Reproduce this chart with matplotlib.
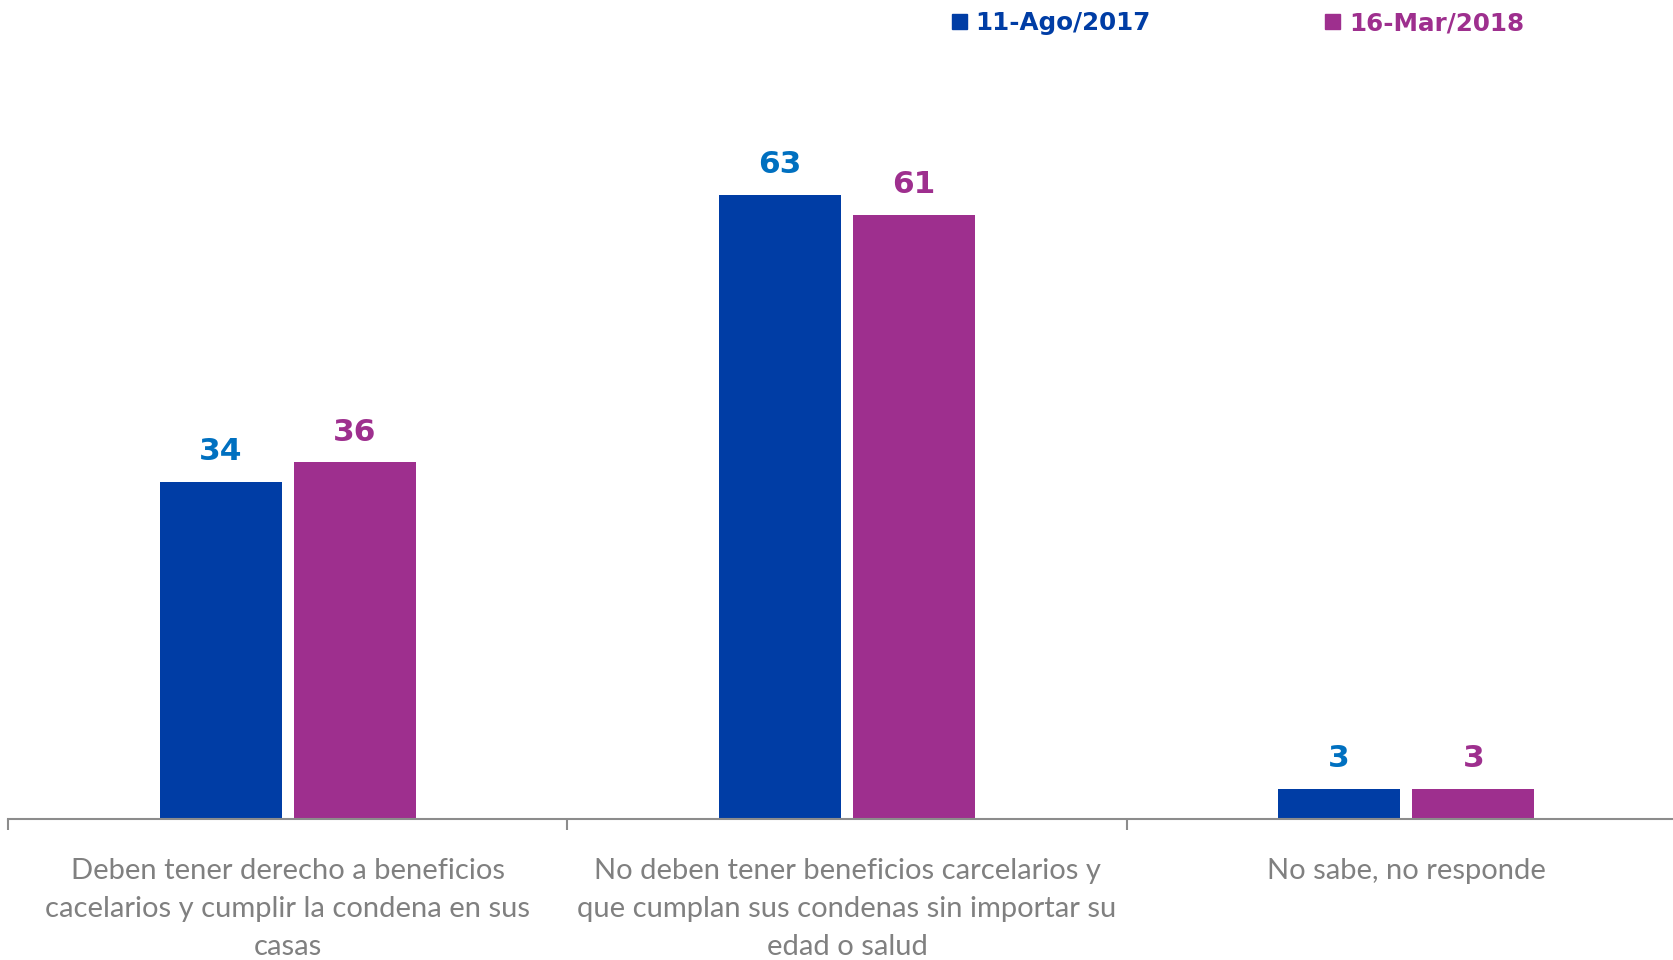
import numpy as np
import matplotlib
import matplotlib.pyplot as plt
from matplotlib.patches import Patch

matplotlib.use('Agg')

categories = ['Deben tener derecho a beneficios\ncacelarios y cumplir la condena en sus\ncasas',
              'No deben tener beneficios carcelarios y\nque cumplan sus condenas sin importar su\nedad o salud',
              'No sabe, no responde']
series_names = ['11-Ago/2017', '16-Mar/2018']
ago2017 = [34, 63, 3]
mar2018 = [36, 61, 3]

bar_colors = ['#003DA5', '#9E2F8E']
label_colors = ['#0070C0', '#9E2F8E']

fig = plt.figure(figsize=(16.74, 9.6), dpi=100)
ax = fig.add_axes([0.005, 0.147, 0.995, 0.853])

x = np.arange(len(categories))
w = 0.218
offsets = [-0.12, 0.12]
for vals, off, col, lcol in zip([ago2017, mar2018], offsets, bar_colors, label_colors):
    bars = ax.bar(x + off, vals, width=w, color=col, zorder=2)
    for b, v in zip(bars, vals):
        ax.text(b.get_x() + b.get_width() / 2, v + 1.6, str(v), ha='center', va='bottom',
                fontsize=22.5, fontweight='bold', color=lcol, family='DejaVu Sans')

# the axis runs a little past the right edge of the figure
ax.set_xlim(-0.5, 2.479)
ax.set_ylim(0, 82.7)
for s in ['top', 'right', 'left']:
    ax.spines[s].set_visible(False)
ax.spines['bottom'].set_color('#8C8C8C')
ax.spines['bottom'].set_linewidth(1.5)
ax.set_yticks([])
ax.set_xticks([-0.5, 0.5, 1.5])
ax.set_xticklabels([])
ax.tick_params(axis='x', length=8, color='#8C8C8C', width=1.5, direction='out')
for xi, cat in zip(x, categories):
    ax.text(xi, -4.0, cat, ha='center', va='top', fontsize=21, color='#808080',
            family='Lato', linespacing=1.55)

handles = [Patch(color=c) for c in bar_colors]
leg = fig.legend(handles, series_names, loc='center left', bbox_to_anchor=(0.5556, 0.976),
                 ncol=2, frameon=False, handlelength=0.6, handleheight=0.6,
                 handletextpad=0.35, columnspacing=7.1,
                 prop={'family': 'DejaVu Sans', 'weight': 'bold', 'size': 17.7})
for t, c in zip(leg.get_texts(), bar_colors):
    t.set_color(c)

fig.savefig('out.png', dpi=100)
